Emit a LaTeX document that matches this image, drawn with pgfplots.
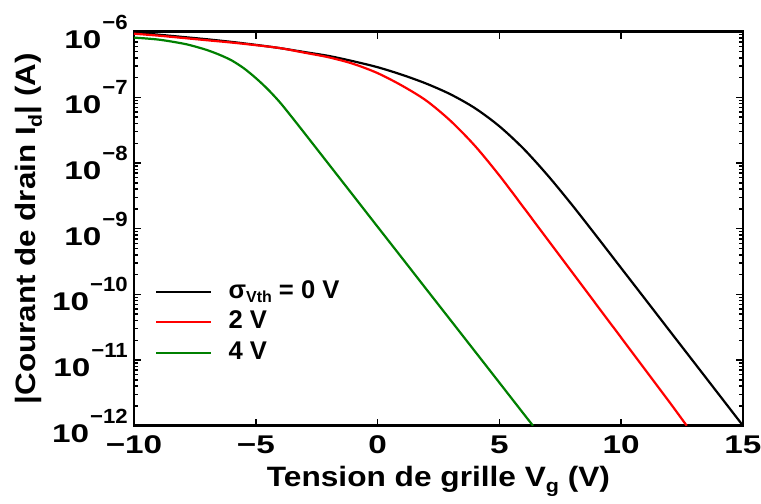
\documentclass[border=0pt]{standalone}
\usepackage{fontspec}
\setmainfont{Liberation Sans}
\usepackage{graphicx}
\usepackage{pgfplots}
\pgfplotsset{compat=1.18}
\definecolor{cred}{RGB}{255,0,0}
\definecolor{cgreen}{RGB}{0,128,0}
\newcommand{\yt}[1]{\bfseries\scalebox{1.3}[1]{\fontsize{25.6bp}{26bp}\selectfont 10}\hspace{1bp}\raisebox{19bp}{\scalebox{1.08}[1]{\fontsize{20.5bp}{21bp}\selectfont −#1}}}
\newcommand{\xt}[1]{\bfseries\scalebox{1.3}[1]{\fontsize{25.6bp}{26bp}\selectfont #1}}
\begin{document}
\begin{tikzpicture}
\begin{axis}[
  scale only axis, width=609bp, height=394bp,
  xmin=-10, xmax=15, ymin=1e-12, ymax=1e-6, ymode=log,
  xtick={-10,-5,0,5,10,15},
  xticklabels={\xt{−10},\xt{−5},\xt{0},\xt{5},\xt{10},\xt{15}},
  ytick={1e-12,1e-11,1e-10,1e-9,1e-8,1e-7,1e-6},
  yticklabels={\yt{12},\yt{11},\yt{10},\yt{9},\yt{8},\yt{7},\yt{6}},
  minor ytick={2e-12,3e-12,4e-12,5e-12,6e-12,7e-12,8e-12,9e-12,
    2e-11,3e-11,4e-11,5e-11,6e-11,7e-11,8e-11,9e-11,
    2e-10,3e-10,4e-10,5e-10,6e-10,7e-10,8e-10,9e-10,
    2e-9,3e-9,4e-9,5e-9,6e-9,7e-9,8e-9,9e-9,
    2e-8,3e-8,4e-8,5e-8,6e-8,7e-8,8e-8,9e-8,
    2e-7,3e-7,4e-7,5e-7,6e-7,7e-7,8e-7,9e-7},
  tick align=inside,
  major tick length=7bp, minor tick length=4bp,
  line width=2.6bp,
  axis line style={line width=2.6bp},
  every tick/.style={line width=1.5bp, black},
  yticklabel style={inner xsep=5bp},
  xticklabel style={inner ysep=9bp},
  xlabel={\bfseries\scalebox{1.13}[1]{\fontsize{28bp}{30bp}\selectfont Tension de grille V\raisebox{-6bp}{\fontsize{19bp}{19bp}\selectfont g} (V)}},
  xlabel style={at={(axis description cs:0.5,0)}, anchor=base, yshift=-61bp, inner sep=0pt},
  ylabel={\bfseries\scalebox{1.12}[1]{\fontsize{28bp}{30bp}\selectfont |Courant de drain I\raisebox{-6bp}{\fontsize{19bp}{19bp}\selectfont d}| (A)}},
  ylabel style={at={(axis description cs:0,0.5)}, anchor=base, rotate=0, yshift=98bp, inner sep=0pt},
  legend style={draw=none, fill=none, at={(axis description cs:0.033,0.375)}, anchor=north west,
    inner sep=0pt, row sep=5.5bp, cells={anchor=west},
    nodes={inner xsep=16bp, inner ysep=0pt, text height=19bp, text depth=6bp,
      font=\bfseries\fontsize{25.6bp}{26bp}\selectfont}},
  legend image code/.code={\draw[#1] (0bp,0bp) -- (55bp,0bp);},
  every axis plot/.append style={line width=2.2bp, smooth, tension=0.5},
]
\addplot[black] coordinates {
(-10,9.77e-7) (-9,9.02e-7) (-8,8.32e-7) (-7,7.67e-7) (-6,7.00e-7) (-5,6.31e-7)
(-4,5.62e-7) (-3,4.90e-7) (-2,4.27e-7) (-1,3.55e-7) (0,2.88e-7) (1,2.21e-7)
(2,1.62e-7) (3,1.11e-7) (4,6.84e-8) (5,3.63e-8) (6,1.64e-8) (7,6.38e-9)
(8,2.26e-9) (9,7.59e-10) (10,2.51e-10) (11,8.32e-11) (12,2.75e-11) (13,9.12e-12)
(14,3.02e-12) (15,1.00e-12)
};
\addlegendentry{σ\raisebox{-4bp}{\fontsize{16bp}{16bp}\selectfont Vth} = 0 V}
\addplot[cred] coordinates {
(-10,9.33e-7) (-9,8.71e-7) (-8,8.04e-7) (-7,7.41e-7) (-6,6.84e-7) (-5,6.24e-7)
(-4,5.62e-7) (-3,4.79e-7) (-2,4.07e-7) (-1,3.24e-7) (0,2.34e-7) (1,1.51e-7)
(2,8.91e-8) (3,4.37e-8) (4,1.82e-8) (5,6.46e-9) (6,2.09e-9) (7,6.68e-10)
(8,2.14e-10) (9,6.84e-11) (10,2.19e-11) (11,7.00e-12) (12,2.24e-12) (12.69,1.00e-12)
};
\addlegendentry{2 V}
\addplot[cgreen] coordinates {
(-10,8.13e-7) (-9,7.59e-7) (-8,6.61e-7) (-7.5,5.96e-7) (-7,5.25e-7) (-6.5,4.47e-7)
(-6,3.67e-7) (-5.5,2.79e-7) (-5,1.97e-7) (-4.5,1.32e-7) (-4,8.32e-8) (-3.5,4.90e-8)
(-3,2.85e-8) (-2,9.55e-9) (-1,3.20e-9) (0,1.07e-9) (1,3.59e-10) (2,1.20e-10)
(3,4.03e-11) (4,1.35e-11) (5,4.52e-12) (6,1.51e-12) (6.38,1.00e-12)
};
\addlegendentry{4 V}
\coordinate (sw) at (rel axis cs:0,0);
\end{axis}
\pgfresetboundingbox
\path[use as bounding box] ([shift={(-134bp,-78.3bp)}]sw) rectangle ([shift={(627bp,425.7bp)}]sw);
\end{tikzpicture}
\end{document}
